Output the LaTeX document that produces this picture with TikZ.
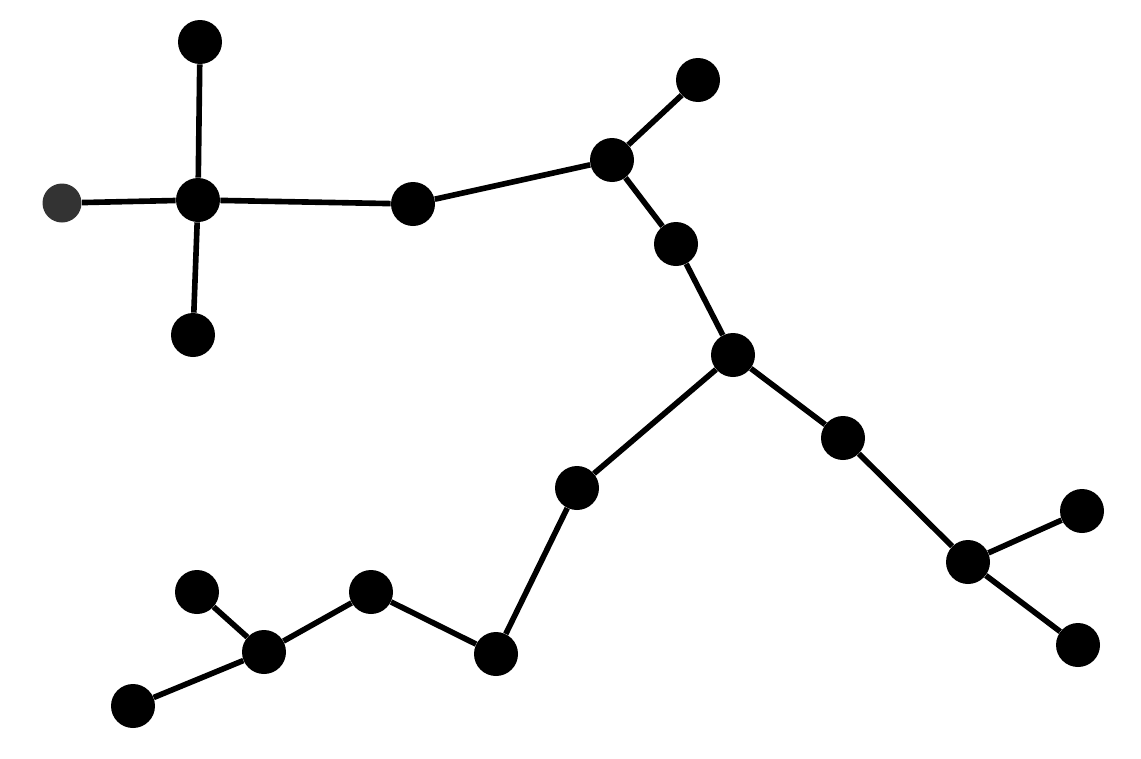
\documentclass[tikz,border=0pt]{standalone}
\usepackage{tikz}
\usetikzlibrary{positioning}

\begin{document}
\begin{tikzpicture}[
            x = 0.02cm, y = -0.02cm,
            dot/.style = {circle, fill = black, inner sep = 0pt, minimum size = 0.88cm},
            bond/.style = {line width = 3.2pt, black}]
            \useasboundingbox (0,0) rectangle (1141,758);
            % left cross
            \node[dot] (ntop)    at (200,42)  {};
            \node[dot, minimum size = 0.78cm, fill = black!80] (nleft) at (62,203) {};
            \node[dot] (ncross)  at (198,200) {};
            \node[dot] (nbottom) at (193,335) {};
            % upper chain
            \node[dot] (nmid)    at (413,204) {};
            \node[dot] (nfork)   at (612,160) {};
            \node[dot] (nspike)  at (698,80)  {};
            \node[dot] (ndown)   at (676,244) {};
            \node[dot] (nhub)    at (733,355) {};
            % right branch
            \node[dot] (nright)  at (843,438) {};
            \node[dot] (nclaw)   at (968,562) {};
            \node[dot] (nupper)  at (1082,511) {};
            \node[dot] (nlower)  at (1078,645) {};
            % lower branch
            \node[dot] (nslope)  at (577,488) {};
            \node[dot] (nvalley) at (496,654) {};
            \node[dot] (npeak)   at (371,592) {};
            \node[dot] (nend)    at (264,652) {};
            \node[dot] (nleaf)   at (197,592) {};
            \node[dot] (ntail)   at (133,706) {};
            \foreach \a/\b in {ntop/ncross, nleft/ncross, ncross/nbottom, ncross/nmid,
                               nmid/nfork, nfork/nspike, nfork/ndown, ndown/nhub,
                               nhub/nright, nright/nclaw, nclaw/nupper, nclaw/nlower,
                               nhub/nslope, nslope/nvalley, nvalley/npeak, npeak/nend,
                               nend/nleaf, nend/ntail}
                \draw[bond] (\a) -- (\b);
        \end{tikzpicture}
\end{document}
